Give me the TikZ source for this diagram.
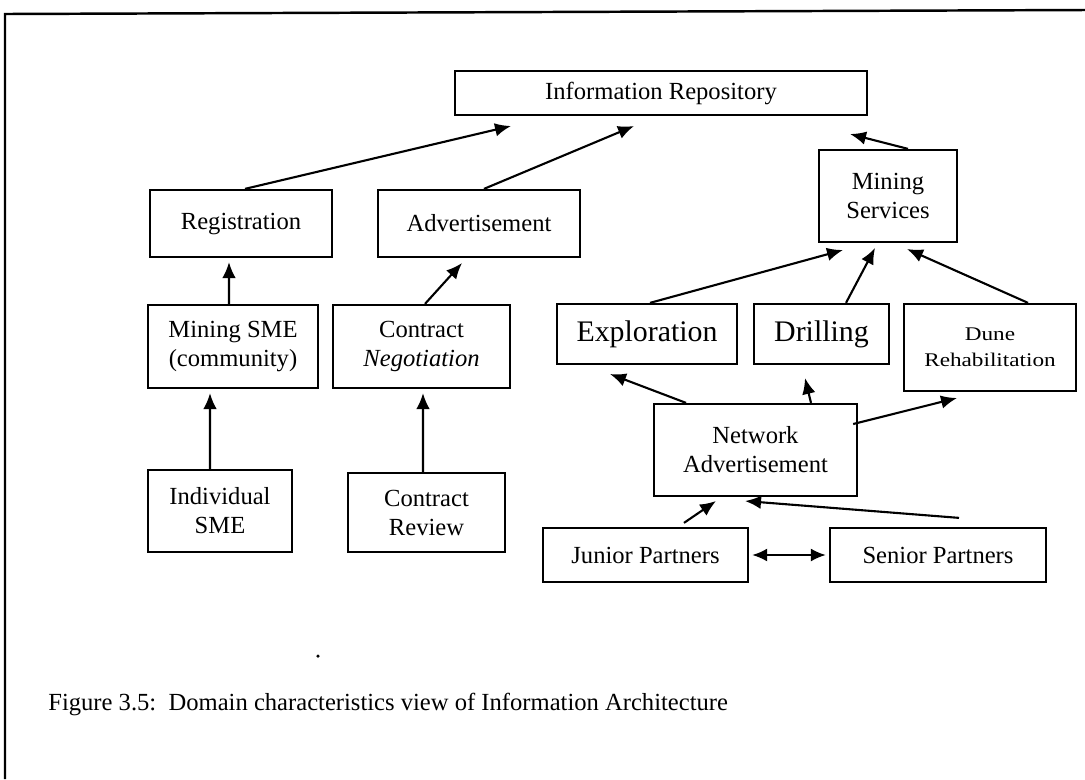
\documentclass[tikz,border=0pt]{standalone}
\usepackage{fontspec}
\setmainfont{Liberation Serif}
\newfontfamily\widefont[FakeStretch=1.2]{Liberation Serif}
\usetikzlibrary{arrows.meta}
\tikzset{
  box/.style={draw, line width=1.3pt, align=center, inner sep=0pt, font=\fontsize{14}{16.5}\selectfont},
  bigtext/.style={font=\fontsize{17}{20}\selectfont},
  arr/.style={line width=1.2pt, -{Latex[length=0.32cm,width=0.27cm]}},
  darr/.style={line width=1.2pt, {Latex[length=0.3cm,width=0.26cm]}-{Latex[length=0.3cm,width=0.26cm]}}
}
\begin{document}
\begin{tikzpicture}[x=0.02cm, y=-0.02cm]
\useasboundingbox (0,0) rectangle (1085,779);
% frame
\draw[line width=1.4pt] (5,779) -- (5,14) -- (1085,10);

\node[box, minimum width=8.24cm, minimum height=0.88cm] (repo) at (661,93) {Information Repository};
\node[box, minimum width=3.64cm, minimum height=1.34cm] (reg) at (241,223.5) {Registration};
\node[box, minimum width=4.04cm, minimum height=1.34cm] (adv) at (479,223.5) {Advertisement};
\node[box, minimum width=2.76cm, minimum height=1.84cm] (msvc) at (888,196) {Mining\\Services};
\node[box, minimum width=3.40cm, minimum height=1.66cm] (msme) at (233,346.5) {Mining SME\\(community)};
\node[box, minimum width=3.54cm, minimum height=1.66cm] (cneg) at (421.5,346.5) {Contract\\\textit{Negotiation}};
\node[box, minimum width=2.88cm, minimum height=1.64cm] (isme) at (220,511) {Individual\\SME};
\node[box, minimum width=3.14cm, minimum height=1.58cm] (crev) at (426.5,512.5) {Contract\\Review};
\node[box, bigtext, minimum width=3.60cm, minimum height=1.20cm] (expl) at (647,334) {Exploration};
\node[box, bigtext, minimum width=2.70cm, minimum height=1.20cm] (drill) at (821.5,334) {Drilling};
\node[box, minimum width=3.44cm, minimum height=1.74cm, font=\widefont\fontsize{11}{15}\selectfont] (dune) at (990,347.5) {Dune\\Rehabilitation};
\node[box, minimum width=4.06cm, minimum height=1.84cm] (netad) at (755.5,450) {Network\\Advertisement};
\node[box, minimum width=4.10cm, minimum height=1.08cm] (junior) at (645.5,555) {Junior Partners};
\node[box, minimum width=4.32cm, minimum height=1.08cm] (senior) at (938,555) {Senior Partners};

% free arrow tips
\coordinate (t1) at (511,126);
\coordinate (t2) at (634,126);
\coordinate (t3) at (850,134);
\coordinate (t4) at (229,262);
\coordinate (t5) at (462,263);
\coordinate (t6) at (210,393);
\coordinate (t7) at (423,393);
\coordinate (t8) at (843,250);
\coordinate (t9) at (875,248);
\coordinate (t10) at (907,249);
\coordinate (t11) at (610,374);
\coordinate (t12) at (805,378);
\coordinate (t13) at (957,398);
\coordinate (t14) at (716,501);
\coordinate (t15) at (745,501);

\draw[arr] ([xshift=0.08cm]reg.north) -- (t1);
\draw[arr] ([xshift=0.10cm]adv.north) -- (t2);
\draw[arr] ([xshift=0.40cm]msvc.north) -- (t3);
\draw[arr] ([xshift=-0.08cm]msme.north) -- (t4);
\draw[arr] ([xshift=0.07cm]cneg.north) -- (t5);
\draw[arr] ([xshift=-0.20cm]isme.north) -- (t6);
\draw[arr] ([xshift=-0.07cm]crev.north) -- (t7);
\draw[arr] ([xshift=0.06cm]expl.north) -- (t8);
\draw[arr] ([xshift=0.49cm]drill.north) -- (t9);
\draw[arr] ([xshift=0.76cm]dune.north) -- (t10);
\draw[arr] ([xshift=-1.39cm]netad.north) -- (t11);
\draw[arr] ([xshift=1.11cm]netad.north) -- (t12);
\draw[arr] ([xshift=-0.10cm,yshift=0.52cm]netad.east) -- (t13);
\draw[arr] ([xshift=0.77cm,yshift=0.08cm]junior.north) -- (t14);
\draw[arr] ([xshift=0.42cm,yshift=0.18cm]senior.north) -- (t15);
\draw[darr] ([xshift=0.06cm]junior.east) -- ([xshift=-0.06cm]senior.west);

\node[anchor=base west, inner sep=0pt, font=\fontsize{14}{16}\selectfont] (cap) at (48,710) {Figure 3.5:\ \ Domain characteristics view of Information Architecture};
\fill (318,656) circle (1pt);
\end{tikzpicture}
\end{document}
